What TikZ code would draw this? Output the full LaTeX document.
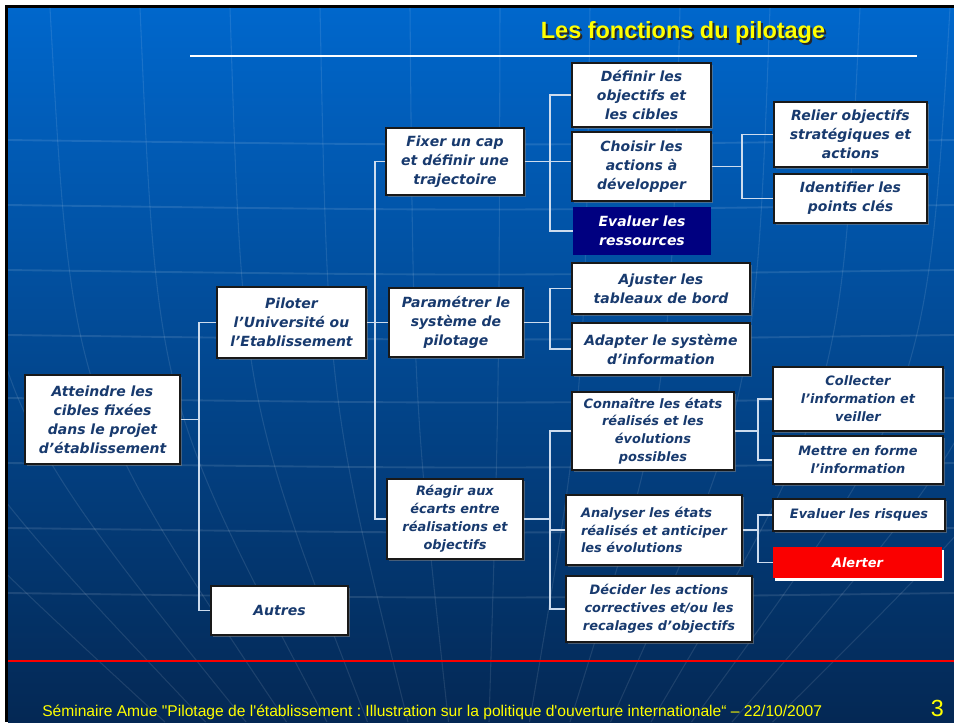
\documentclass[tikz,border=0pt]{standalone}
\usepackage{fontspec}
\setmainfont{Liberation Sans}
\newfontfamily\footfont{Liberation Sans}[Ligatures=TeXOff]
\newfontfamily\boxfont{DejaVu Sans}
\usetikzlibrary{shadows}
\definecolor{boxtxt}{RGB}{24,58,110}
\definecolor{bgtop}{RGB}{0,103,204}
\definecolor{bgmid}{RGB}{0,82,165}
\definecolor{bgbot}{RGB}{4,40,84}
\definecolor{connc}{RGB}{205,220,238}
\definecolor{navybox}{RGB}{0,0,128}
\definecolor{alertred}{RGB}{250,0,0}
\definecolor{titleyellow}{RGB}{255,255,0}
\tikzset{
  bigtxt/.style={font=\boxfont\bfseries\itshape\fontsize{10.5}{14.25}\selectfont},
  smalltxt/.style={font=\boxfont\bfseries\itshape\fontsize{9.7}{13.4}\selectfont},
  wbox/.style={draw=black!90, line width=0.9pt, fill=white, text=boxtxt, align=center, inner sep=0pt,
    drop shadow={shadow xshift=1.3pt, shadow yshift=-1.3pt, opacity=0.55}},
  navy/.style={fill=navybox, text=white, align=center, inner sep=0pt},
  alertbox/.style={fill=alertred, text=white, align=center, inner sep=0pt,
    drop shadow={fill=white, opacity=1, shadow xshift=1.6pt, shadow yshift=-2pt}},
  conn/.style={draw=connc, line width=0.9pt},
  merid/.style={draw=white, opacity=0.10, line width=0.8pt},
  latit/.style={draw=white, opacity=0.11, line width=1.4pt},
}
\newcommand\bx[7]{\node[#6, minimum width={(#4-#2)*0.75pt}, minimum height={(#5-#3)*0.75pt}] (#1) at ({(#2+#4)/2},{(#3+#5)/2}) {#7};}
\begin{document}
\frenchspacing
\begin{tikzpicture}[x=0.75pt,y=-0.75pt]
\useasboundingbox (0,0) rectangle (954,722);
% frame and background
\fill[white] (0,0) rectangle (954,722);
\fill[black] (5,5) rectangle (954,722);
\shade[top color=bgtop, middle color=bgmid, bottom color=bgbot] (8,8) rectangle (954,722);
\begin{scope}
\clip (8,8) rectangle (954,722);
\foreach \xt in {-220,-130,-40,50,140,230,320,410,500,590,680,770,860,950,1040,1130}{
  \pgfmathsetmacro\xb{480+(\xt-480)*0.45}
  \pgfmathsetmacro\xc{480+(\xt-480)*0.95}
  \draw[merid] (\xt,8) .. controls (\xc,400) .. (\xb,722);
}
\foreach \yy in {140,205,270,335,398,463,528,593}{
  \draw[latit] (8,\yy) .. controls (480,\yy+6) .. (954,\yy);
}
\end{scope}
% title
\node[font=\bfseries\fontsize{17.6}{20}\selectfont, text=black!85] (titleshadow) at (685,34) {Les fonctions du pilotage};
\node[font=\bfseries\fontsize{17.6}{20}\selectfont, text=titleyellow] (title) at (683,32) {Les fonctions du pilotage};
\draw[white, line width=1.5pt] (190,56) -- (917,56);
% boxes
\bx{root}{25}{375}{180}{464}{wbox,bigtxt}{Atteindre les\\cibles fixées\\dans le projet\\d’établissement}
\bx{pil}{217}{287}{366}{358}{wbox,bigtxt}{Piloter\\l’Université ou\\l’Etablissement}
\bx{aut}{211}{586}{348}{635}{wbox,bigtxt}{Autres}
\bx{fix}{386}{128}{524}{195}{wbox,bigtxt}{Fixer un cap\\et définir une\\trajectoire}
\bx{par}{389}{288}{523}{357}{wbox,bigtxt}{Paramétrer le\\système de\\pilotage}
\bx{rea}{387}{479}{523}{559}{wbox,smalltxt}{Réagir aux\\écarts entre\\réalisations et\\objectifs}
\bx{def}{572}{63}{711}{127}{wbox,bigtxt}{Définir les\\objectifs et\\les cibles}
\bx{cho}{572}{132}{711}{201}{wbox,bigtxt}{Choisir les\\actions à\\développer}
\bx{eva}{573}{207}{711}{255}{navy,bigtxt}{Evaluer les\\ressources}
\bx{rel}{774}{102}{927}{167}{wbox,bigtxt}{Relier objectifs\\stratégiques et\\actions}
\bx{ide}{774}{174}{927}{223}{wbox,bigtxt}{Identifier les\\points clés}
\bx{aju}{572}{263}{750}{314}{wbox,bigtxt}{Ajuster les\\tableaux de bord}
\bx{ada}{572}{323}{750}{375}{wbox,bigtxt}{Adapter le système\\d’information}
\bx{con}{572}{392}{734}{470}{wbox,smalltxt}{Connaître les états\\réalisés et les\\évolutions\\possibles}
\bx{col}{773}{367}{943}{431}{wbox,smalltxt}{Collecter\\l’information et\\veiller}
\bx{met}{773}{436}{943}{484}{wbox,smalltxt}{Mettre en forme\\l’information}
\bx{ana}{566}{495}{742}{565}{wbox,smalltxt,align=left}{Analyser les états\\réalisés et anticiper\\les évolutions}
\bx{risk}{773}{499}{945}{531}{wbox,smalltxt}{Evaluer les risques}
\bx{ale}{773}{547}{942}{578}{alertbox,smalltxt}{Alerter}
\bx{dec}{566}{576}{752}{642}{wbox,smalltxt}{Décider les actions\\correctives et/ou les\\recalages d’objectifs}
% bus coordinates
\coordinate (b0) at (199,0);
\coordinate (b1) at (375,0);
\coordinate (b2) at (550,0);
\coordinate (b3a) at (742,0);
\coordinate (b3b) at (758,0);
% connectors
\draw[conn] (root.east) -- (root.east -| b0);
\draw[conn] (pil.west) -- (pil.west -| b0) -- (aut.west -| b0) -- (aut.west);
\draw[conn] (pil.east) -- (par.west);
\draw[conn] (fix.west) -- (fix.west -| b1) -- (rea.west -| b1) -- (rea.west);
\draw[conn] (def.west) -- (def.west -| b2) -- (eva.west -| b2) -- (eva.west);
\draw[conn] (fix.east) -- (fix.east -| cho.west);
\draw[conn] (cho.east) -- (cho.east -| b3a);
\draw[conn] (rel.west) -- (rel.west -| b3a) -- (ide.west -| b3a) -- (ide.west);
\draw[conn] (aju.west) -- (aju.west -| b2) -- (ada.west -| b2) -- (ada.west);
\draw[conn] (par.east) -- (par.east -| b2);
\draw[conn] (con.west) -- (con.west -| b2) -- (dec.west -| b2) -- (dec.west);
\draw[conn] (rea.east) -- (rea.east -| b2);
\draw[conn] (ana.west) -- (ana.west -| b2);
\draw[conn] (col.west) -- (col.west -| b3b) -- (met.west -| b3b) -- (met.west);
\draw[conn] (con.east) -- (con.east -| b3b);
\draw[conn] (risk.west) -- (risk.west -| b3b) -- (ale.west -| b3b) -- (ale.west);
\draw[conn] (ana.east) -- (ana.east -| b3b);
% footer
\draw[alertred, line width=2.2pt] (8,661) -- (954,661);
\node[anchor=base west, inner sep=0pt, text=titleyellow, font=\footfont\fontsize{11.7}{13}\selectfont] (foot) at (42,716) {Séminaire Amue "Pilotage de l'établissement : Illustration sur la politique d'ouverture internationale“ – 22/10/2007};
\node[anchor=base east, inner sep=0pt, text=titleyellow, font=\fontsize{17.5}{20}\selectfont] (pnum) at (944,716) {3};
\end{tikzpicture}
\end{document}
